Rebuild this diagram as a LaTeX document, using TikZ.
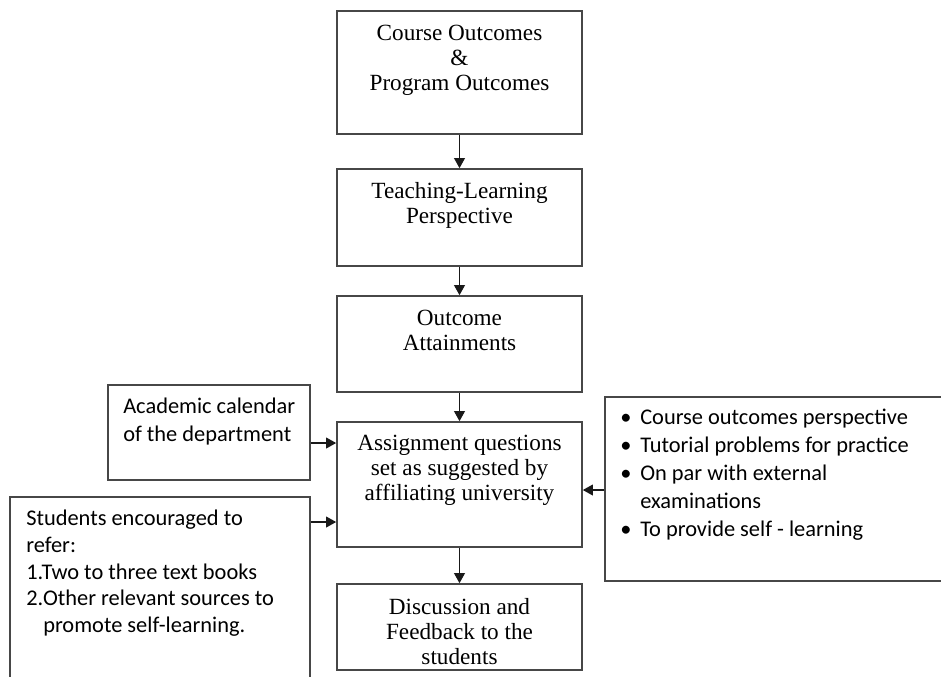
\documentclass[tikz,border=0pt]{standalone}
\usepackage{fontspec}
\setmainfont{Liberation Serif}
\newfontfamily\calfont{Carlito}
\usetikzlibrary{arrows.meta,fit}
\newcommand\bulitem{\makebox[15pt][l]{\textbullet}}

\begin{document}
\begin{tikzpicture}[x=0.75pt,y=-0.75pt,
  box/.style={draw=black!72, line width=1.2pt, inner sep=0pt},
  flow/.style={-{Triangle[length=7.5pt,width=8pt]}, line width=1.1pt, draw=black!90},
  serif/.style={font=\fontsize{17.4}{18.75}\selectfont, align=center, inner sep=0pt, anchor=north},
  cal/.style={font=\calfont\fontsize{16.8}{21}\selectfont, align=left, inner sep=0pt, anchor=north west}]

\useasboundingbox (0,0) rectangle (941,676);
\clip (0,0) rectangle (941,676);

% main column
\node[box, fit={(337,11) (582,134)}]  (co) {};
\node[box, fit={(337,169) (582,266)}] (tl) {};
\node[box, fit={(337,296) (582,392)}] (oa) {};
\node[box, fit={(337,422) (582,547)}] (aq) {};
\node[box, fit={(337,584) (582,670)}] (df) {};

\node[serif] (cot) at (459.5,24.5) {Course Outcomes\\ \&\\ Program Outcomes};
\node[serif] (tlt) at (459.5,182) {Teaching-Learning\\ Perspective};
\node[serif] (oat) at (459.5,310) {Outcome\\ Attainments};
\node[serif] (aqt) at (459.5,435) {Assignment questions\\ set as suggested by\\ affiliating university};
\node[serif] (dft) at (459.5,598) {Discussion and\\ Feedback to the\\ students};

% side inputs
\node[box, fit={(108,385) (310,480)}] (ac) {};
\node[box, fit={(10,497) (310,700)}]  (st) {};
\node[box, fit={(605,397) (960,581)}] (rb) {};

\node[cal] (act) at (123,398) {Academic calendar\\ of the department};
\node[cal, font=\calfont\fontsize{16.8}{20}\selectfont] (stt) at (26,510)
  {Students encouraged to\\ refer:\\ 1.Two to three text books\\ 2.Other relevant sources to\\ \phantom{2.}promote self-learning.};
\node[cal] (rbt) at (620,409)
  {\bulitem Course outcomes perspective\\ \bulitem Tutorial problems for practice\\ \bulitem On par with external\\ \hspace*{15pt}examinations\\ \bulitem To provide self - learning};

% connectors
\draw[flow] (co.south) -- (tl.north);
\draw[flow] (tl.south) -- (oa.north);
\draw[flow] (oa.south) -- (aq.north);
\draw[flow] (aq.south) -- (df.north);
\draw[flow] (ac.east |- 0,443) -- (aq.west |- 0,443);
\draw[flow] (st.east |- 0,522) -- (aq.west |- 0,522);
\draw[flow] (rb.west |- 0,490) -- (aq.east |- 0,490);
\end{tikzpicture}
\end{document}
